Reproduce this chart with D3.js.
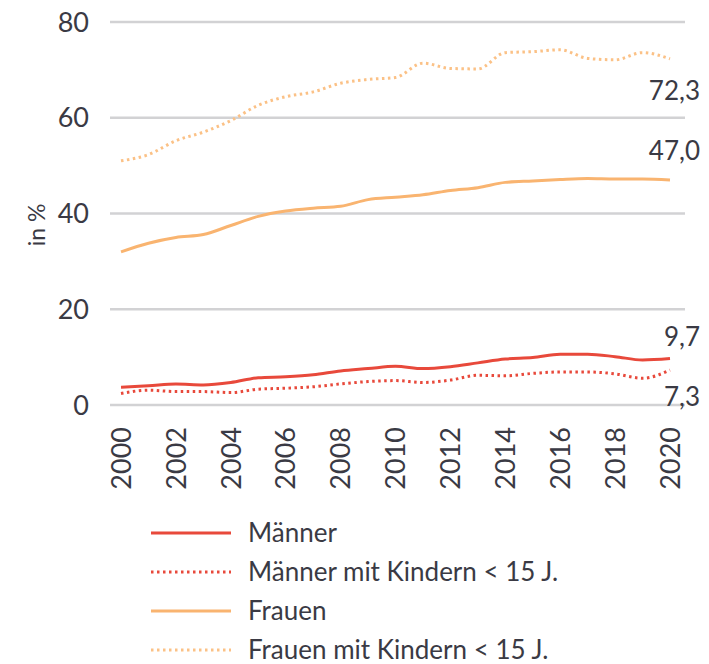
<!DOCTYPE html>
<html>
<head>
<meta charset="utf-8">
<script src="https://cdn.jsdelivr.net/npm/d3@7"></script>
<style>
	body { margin: 0; background: #fff; }
	svg text { font-family: Lato, "Noto Sans", sans-serif; fill: #3a3a44; }
</style>
</head>
<body>
<svg id="chart" width="709" height="664"></svg>
<script>
/* Data */

var years = d3.range(2000, 2021);
var maenner = [3.7, 4.0, 4.4, 4.2, 4.7, 5.7, 5.9, 6.3, 7.1, 7.6, 8.1, 7.6, 8.0, 8.8, 9.6, 9.9, 10.6, 10.6, 10.1, 9.4, 9.7];
var maennerKinder = [2.4, 3.1, 2.8, 2.8, 2.6, 3.3, 3.5, 3.8, 4.4, 4.9, 5.1, 4.7, 5.2, 6.2, 6.1, 6.6, 6.9, 6.9, 6.5, 5.6, 7.3];
var frauen = [32.0, 33.8, 35.0, 35.6, 37.5, 39.4, 40.5, 41.1, 41.5, 42.9, 43.4, 43.9, 44.8, 45.4, 46.5, 46.8, 47.1, 47.3, 47.2, 47.2, 47.0];
var frauenKinder = [51.0, 52.3, 55.2, 57.0, 59.4, 62.6, 64.4, 65.4, 67.2, 68.0, 68.4, 71.4, 70.3, 70.2, 73.6, 73.8, 74.2, 72.4, 72.1, 73.6, 72.3];
var yTicks = [0, 20, 40, 60, 80];
var xTicks = [2000, 2002, 2004, 2006, 2008, 2010, 2012, 2014, 2016, 2018, 2020];
var seriesNames = ["Männer", "Männer mit Kindern < 15 J.", "Frauen", "Frauen mit Kindern < 15 J."];
var endLabels = ["9,7", "7,3", "47,0", "72,3"];

var series = [
	{name: seriesNames[0], values: maenner, color: "#e8493b", dash: null, label: endLabels[0], dy: -22},
	{name: seriesNames[1], values: maennerKinder, color: "#e8493b", dash: "2.5,3.5", label: endLabels[1], dy: 27},
	{name: seriesNames[2], values: frauen, color: "#f9b470", dash: null, label: endLabels[2], dy: -29},
	{name: seriesNames[3], values: frauenKinder, color: "#fbc186", dash: "2.5,3.5", label: endLabels[3], dy: 32}
];

var svg = d3.select("#chart");

var x = d3.scaleLinear()
	.domain([2000, 2020])
	.range([121, 670]);

var y = d3.scaleLinear()
	.domain([0, 80])
	.range([405, 22]);

/* Grid + y ticks */

svg.append("g")
	.selectAll("line")
	.data(yTicks)
	.enter().append("line")
	.attr("x1", 110)
	.attr("x2", 685)
	.attr("y1", function(d){ return y(d); })
	.attr("y2", function(d){ return y(d); })
	.attr("stroke", "#d2d2d4")
	.attr("stroke-width", 2.5);

svg.append("g")
	.selectAll("text")
	.data(yTicks)
	.enter().append("text")
	.attr("x", 89)
	.attr("y", function(d){ return y(d); })
	.attr("dy", "0.36em")
	.attr("text-anchor", "end")
	.attr("font-size", 27)
	.text(function(d){ return d; });

svg.append("text")
	.attr("transform", "translate(37,225) rotate(-90)")
	.attr("text-anchor", "middle")
	.attr("dy", "0.36em")
	.attr("font-size", 23)
	.text("in %");

/* x ticks */

svg.append("g")
	.selectAll("text")
	.data(xTicks)
	.enter().append("text")
	.attr("transform", function(d){ return "translate(" + x(d) + ",427) rotate(-90)"; })
	.attr("dy", "0.36em")
	.attr("text-anchor", "end")
	.attr("font-size", 27)
	.text(function(d){ return d; });

/* Lines */

var line = d3.line()
	.x(function(d, i){ return x(years[i]); })
	.y(function(d){ return y(d); })
	.curve(d3.curveMonotoneX);

svg.append("g")
	.selectAll("path")
	.data(series)
	.enter().append("path")
	.attr("fill", "none")
	.attr("stroke", function(d){ return d.color; })
	.attr("stroke-width", 3)
	.attr("stroke-dasharray", function(d){ return d.dash; })
	.attr("d", function(d){ return line(d.values); });

svg.append("g")
	.selectAll("text")
	.data(series)
	.enter().append("text")
	.attr("x", 700)
	.attr("y", function(d){ return y(d.values[d.values.length - 1]) + d.dy; })
	.attr("dy", "0.36em")
	.attr("text-anchor", "end")
	.attr("font-size", 26)
	.text(function(d){ return d.label; });

/* Legend */

var legend = svg.append("g")
	.selectAll("g")
	.data(series)
	.enter().append("g")
	.attr("transform", function(d, i){ return "translate(151," + (533 + i * 39) + ")"; });

legend.append("line")
	.attr("x1", 0)
	.attr("x2", 80)
	.attr("stroke", function(d){ return d.color; })
	.attr("stroke-width", 3)
	.attr("stroke-dasharray", function(d){ return d.dash; });

legend.append("text")
	.attr("x", 97)
	.attr("dy", "0.36em")
	.attr("font-size", 26)
	.text(function(d){ return d.name; });
</script>
</body>
</html>
